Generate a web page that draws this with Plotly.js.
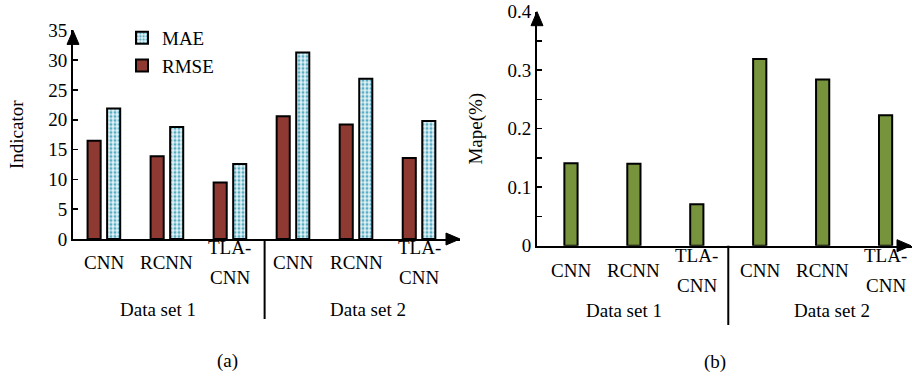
<!DOCTYPE html>
<html>
<head>
<meta charset="utf-8">
<script src="https://cdn.plot.ly/plotly-3.0.1.min.js"></script>
<style>html,body{margin:0;padding:0;background:#fff;}#chart{width:912px;height:376px;}</style>
</head>
<body>
<div id="chart"></div>
<script>
// ---- data ----
const models = ['CNN', 'RCNN', 'TLA-\nCNN', 'CNN', 'RCNN', 'TLA-\nCNN'];
const dataSets = ['Data set 1', 'Data set 2'];
const rmse = [16.5, 13.9, 9.5, 20.6, 19.2, 13.6];
const mae = [21.9, 18.8, 12.6, 31.3, 26.9, 19.8];
const mape = [0.141, 0.140, 0.071, 0.319, 0.284, 0.223];
const yTicksA = [0, 5, 10, 15, 20, 25, 30, 35];
const yTicksB = [0, 0.1, 0.2, 0.3, 0.4];
const panelLabels = ['(a)', '(b)'];

const FONT = '"Liberation Serif", "Times New Roman", Times, serif';
const W = 912, H = 376;
const idx = models.map((_, i) => i);
const px = v => v / W;          // x pixel -> paper
const py = v => (H - v) / H;    // y pixel -> paper

// panel frames (pixels): axis origin and ends
const A = {x0: 73, x1: 460, y0: 239, y1: 30.4};
const B = {x0: 537, x1: 912, y0: 245.7, y1: 11.7};

const traces = [
  {type: 'bar', name: 'RMSE', x: idx, y: rmse, xaxis: 'x', yaxis: 'y',
   marker: {color: '#8E3A33', line: {color: '#000', width: 2}}},
  {type: 'bar', name: 'MAE', x: idx, y: mae, xaxis: 'x', yaxis: 'y',
   marker: {color: '#e4f3f7', line: {color: '#000', width: 2},
            pattern: {shape: '.', fgcolor: '#5aaec4', bgcolor: '#e4f3f7', size: 4, solidity: 0.45}}},
  {type: 'bar', name: 'Mape', x: idx, y: mape, xaxis: 'x2', yaxis: 'y2', width: 0.21, showlegend: false,
   marker: {color: '#77933C', line: {color: '#000', width: 2}}}
];

const axFont = {family: FONT, size: 19, color: '#000'};
const layout = {
  width: W, height: H,
  margin: {l: 0, r: 0, t: 0, b: 0},
  paper_bgcolor: '#fff', plot_bgcolor: 'rgba(0,0,0,0)',
  font: axFont,
  barmode: 'group', bargap: 0.38, bargroupgap: 0.33,
  showlegend: true,
  legend: {x: px(122), y: py(19), xanchor: 'left', yanchor: 'top', traceorder: 'reversed',
           font: axFont, bgcolor: 'rgba(0,0,0,0)', itemwidth: 30, tracegroupgap: 0},
  xaxis: {domain: [px(A.x0), px(A.x1)], range: [-0.49, 5.65], showline: true, linecolor: '#000', linewidth: 2,
          ticks: '', showticklabels: false, showgrid: false, zeroline: false},
  yaxis: {domain: [py(A.y0), py(A.y1)], range: [0, 35], showline: true, linecolor: '#000', linewidth: 2,
          ticks: 'inside', ticklen: 5, tickwidth: 1.5, tickcolor: '#000', tickvals: yTicksA,
          tickfont: axFont, showgrid: false, zeroline: false, anchor: 'x',
          title: {text: 'Indicator', font: axFont, standoff: 20}},
  xaxis2: {domain: [px(B.x0), px(B.x1)], range: [-0.54, 5.42], showline: true, linecolor: '#000', linewidth: 2,
           ticks: '', showticklabels: false, showgrid: false, zeroline: false, anchor: 'y2'},
  yaxis2: {domain: [py(B.y0), py(B.y1)], range: [0, 0.4], showline: true, linecolor: '#000', linewidth: 2,
           ticks: 'inside', ticklen: 5, tickwidth: 1.5, tickcolor: '#000', tickvals: yTicksB,
           ticktext: yTicksB.map(v => v === 0 ? '0' : v.toFixed(1)),
           minor: {dtick: 0.05, ticks: 'inside', ticklen: 5, tickwidth: 1.5, tickcolor: '#000', showgrid: false},
           tickfont: axFont, showgrid: false, zeroline: false, anchor: 'x2',
           title: {text: 'Mape(%)', font: axFont, standoff: 20}},
  shapes: [], annotations: []
};

// arrowheads (pixel-sized paths anchored at axis ends, paper refs so they are not clipped)
function arrowUp(xPix, yPix) {
  return {type: 'path', xref: 'paper', yref: 'paper', xsizemode: 'pixel', ysizemode: 'pixel',
          xanchor: px(xPix), yanchor: py(yPix),
          path: 'M -6 -14 L 0 0 L 6 -14 Z', fillcolor: '#000', line: {color: '#000', width: 1}};
}
function arrowRight(xPix, yPix) {
  return {type: 'path', xref: 'paper', yref: 'paper', xsizemode: 'pixel', ysizemode: 'pixel',
          xanchor: px(xPix), yanchor: py(yPix),
          path: 'M -14 -6 L 0 0 L -14 6 Z', fillcolor: '#000', line: {color: '#000', width: 1}};
}
layout.shapes.push(arrowUp(A.x0, A.y1));
layout.shapes.push(arrowRight(A.x1, A.y0));
layout.shapes.push(arrowUp(B.x0, B.y1));
layout.shapes.push(arrowRight(B.x1 - 1, B.y0));

// dataset dividers
layout.shapes.push({type: 'line', xref: 'x', yref: 'paper', x0: 2.55, x1: 2.55, y0: py(A.y0), y1: py(319),
                    line: {color: '#000', width: 2}});
layout.shapes.push({type: 'line', xref: 'x2', yref: 'paper', x0: 2.5, x1: 2.5, y0: py(B.y0), y1: py(325),
                    line: {color: '#000', width: 2}});

function txt(xr, x, yPix, text) {
  return {xref: xr, yref: 'paper', x: x, y: py(yPix), text: text, showarrow: false,
          xanchor: 'center', yanchor: 'middle', font: axFont};
}

// category labels
function addCats(xr, centerY) {
  models.forEach((m, i) => {
    const lines = m.split('\n');
    lines.forEach((ln, k) => {
      layout.annotations.push(txt(xr, i, centerY + (k - (lines.length - 1) / 2) * 30, ln));
    });
  });
}
addCats('x', 262);
addCats('x2', 270);

// data set labels
layout.annotations.push(txt('x', 0.86, 309, dataSets[0]));
layout.annotations.push(txt('x', 4.19, 309, dataSets[1]));
layout.annotations.push(txt('x2', 0.84, 310, dataSets[0]));
layout.annotations.push(txt('x2', 4.15, 310, dataSets[1]));

// panel labels
layout.annotations.push(txt('paper', px(227), 361, panelLabels[0]));
layout.annotations.push(txt('paper', px(715), 362, panelLabels[1]));

Plotly.newPlot('chart', traces, layout, {staticPlot: true, displayModeBar: false});
</script>
</body>
</html>
